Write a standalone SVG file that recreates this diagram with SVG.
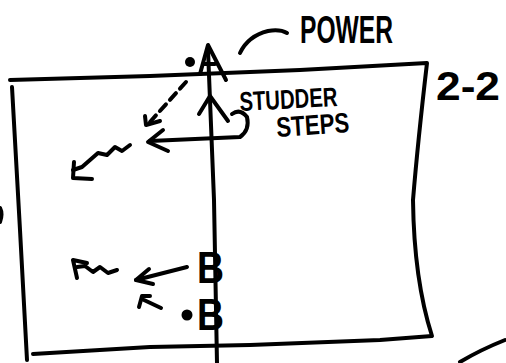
<svg xmlns="http://www.w3.org/2000/svg" width="506" height="363" viewBox="0 0 506 363">
<style>
.s{fill:none;stroke:#000;stroke-width:4;stroke-linecap:round;stroke-linejoin:round}
.t{font-family:"Liberation Sans",Arial,sans-serif;font-weight:bold;fill:#000}
</style>
<rect width="506" height="363" fill="#fff"/>
<g id="frame">
<path class="s" d="M10,80 L150,76 L300,70 L427,63 Q418,140 413,200 Q414,280 432,336 L380,340 L250,345 L150,347 L33,354"/>
<path class="s" d="M12,87 L20,230 L27,360"/>
<path class="s" d="M460,362 Q480,350 505,340"/>
<path class="s" d="M0,208 Q3,214 0,222" stroke-width="2"/>
</g>
<g id="connectors">
<path class="s" d="M217,363 L214,200 L208,50"/>
<path class="s" d="M200,74 L208,45 L226,80 M203,64 L215,64"/>
<path class="s" d="M199,114 L210,96 L228,121"/>
<path class="s" d="M186,82 L150,122" stroke-dasharray="9,6"/>
<path class="s" d="M145,116 L146,125 L160,121"/>
<path class="s" d="M232,114 Q240,108 247,117 Q250,130 240,137 L150,141"/>
<path class="s" d="M163,130 L148,142 L168,151"/>
<path class="s" d="M130,145 L122,151 L115,147 L107,155 L98,153 L90,160 L82,167 L73,170"/>
<path class="s" d="M74,162 L73,178 L92,179"/>
<path class="s" d="M87,263 L73,260 L77,278"/>
<path class="s" d="M77,267 L85,266 L93,272 L100,267 L108,273 L117,270"/>
<path class="s" d="M187,267 L136,280"/>
<path class="s" d="M149,269 L136,280 L153,284"/>
<path class="s" d="M150,296 L142,296 L139,307 M144,300 L161,308"/>
</g>
<g id="dots">
<circle cx="190" cy="62" r="5"/>
<circle cx="187" cy="315" r="5.5"/>
</g>
<g id="power">
<path class="s" d="M240,53 Q248,36 268,31 Q280,29 287,33"/>
<text class="t" x="300" y="43" font-size="38" textLength="93" lengthAdjust="spacingAndGlyphs">POWER</text>
</g>
<g id="studder">
<text class="t" x="240" y="111" font-size="27" textLength="98" lengthAdjust="spacingAndGlyphs" transform="rotate(-3 240 111)">STUDDER</text>
<text class="t" x="277" y="137" font-size="28" textLength="73" lengthAdjust="spacingAndGlyphs" transform="rotate(-4 277 137)">STEPS</text>
</g>
<g id="label22">
<text class="t" x="436" y="100" font-size="40" textLength="64" lengthAdjust="spacingAndGlyphs">2-2</text>
</g>
<g id="marks">
<text class="t" x="197" y="283" font-size="44" textLength="27" lengthAdjust="spacingAndGlyphs">B</text>
<text class="t" x="197" y="330" font-size="44" textLength="27" lengthAdjust="spacingAndGlyphs">B</text>
</g>
</svg>
